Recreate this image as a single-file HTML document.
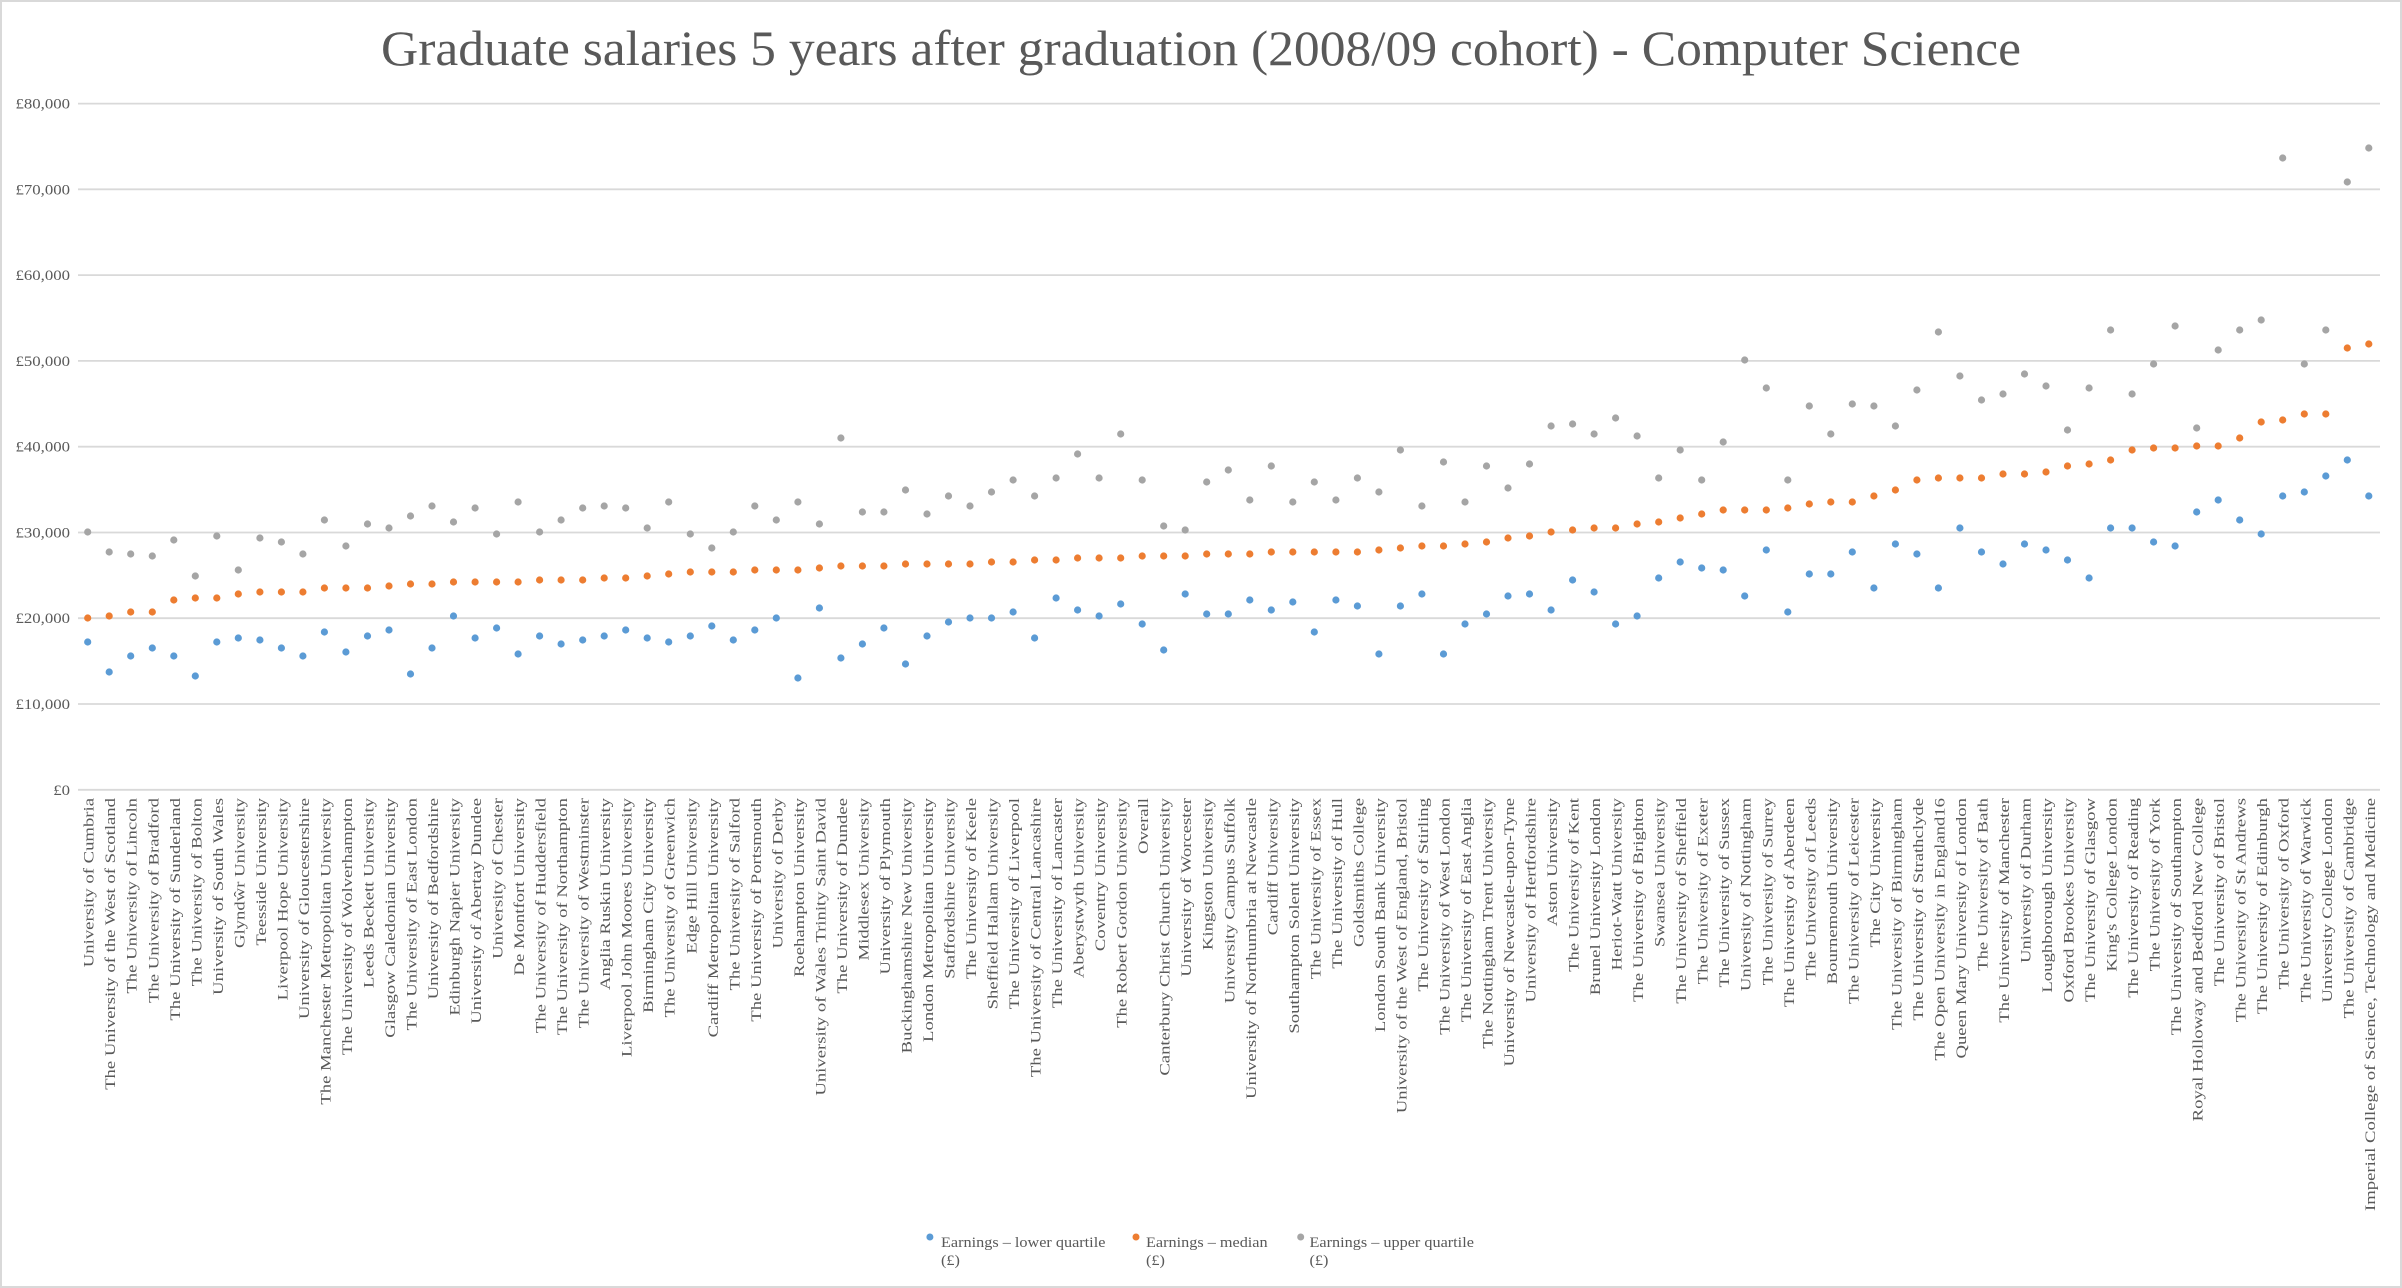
<!DOCTYPE html>
<html>
<head>
<meta charset="utf-8">
<style>
html,body{margin:0;padding:0;background:#fff;}
svg{display:block;}
text{font-family:"Liberation Serif",serif;fill:#595959;}
</style>
</head>
<body>
<svg width="2402" height="1288" viewBox="0 0 2402 1288" xmlns="http://www.w3.org/2000/svg">
<rect x="1" y="1" width="2400" height="1286" fill="#ffffff" stroke="#d9d9d9" stroke-width="2"/>

<!-- Title -->
<text x="1201" y="65" text-anchor="middle" font-size="50" textLength="1640" lengthAdjust="spacingAndGlyphs">Graduate salaries 5 years after graduation (2008/09 cohort) - Computer Science</text>

<!-- Gridlines -->
<g stroke="#d9d9d9" stroke-width="1.8">
<line x1="78" x2="2380" y1="103.6" y2="103.6"/>
<line x1="78" x2="2380" y1="189.3" y2="189.3"/>
<line x1="78" x2="2380" y1="275.1" y2="275.1"/>
<line x1="78" x2="2380" y1="360.9" y2="360.9"/>
<line x1="78" x2="2380" y1="446.7" y2="446.7"/>
<line x1="78" x2="2380" y1="532.5" y2="532.5"/>
<line x1="78" x2="2380" y1="618.2" y2="618.2"/>
<line x1="78" x2="2380" y1="704.0" y2="704.0"/>
<line x1="78" x2="2380" y1="789.8" y2="789.8"/>
</g>

<!-- Y axis labels -->
<g font-size="15" text-anchor="end">
<text transform="translate(70,108.6) scale(1.12,1)">£80,000</text>
<text transform="translate(70,194.3) scale(1.12,1)">£70,000</text>
<text transform="translate(70,280.1) scale(1.12,1)">£60,000</text>
<text transform="translate(70,365.9) scale(1.12,1)">£50,000</text>
<text transform="translate(70,451.7) scale(1.12,1)">£40,000</text>
<text transform="translate(70,537.5) scale(1.12,1)">£30,000</text>
<text transform="translate(70,623.2) scale(1.12,1)">£20,000</text>
<text transform="translate(70,709.0) scale(1.12,1)">£10,000</text>
<text transform="translate(70,794.8) scale(1.12,1)">£0</text>
</g>

<!-- Lower quartile (blue) -->
<g fill="#5b9bd5">
<circle cx="87.7" cy="642" r="3.6"/><circle cx="109.2" cy="672" r="3.6"/><circle cx="130.7" cy="656" r="3.6"/><circle cx="152.3" cy="648" r="3.6"/><circle cx="173.8" cy="656" r="3.6"/><circle cx="195.3" cy="676" r="3.6"/><circle cx="216.8" cy="642" r="3.6"/><circle cx="238.3" cy="638" r="3.6"/><circle cx="259.9" cy="640" r="3.6"/><circle cx="281.4" cy="648" r="3.6"/>
<circle cx="302.9" cy="656" r="3.6"/><circle cx="324.4" cy="632" r="3.6"/><circle cx="345.9" cy="652" r="3.6"/><circle cx="367.5" cy="636" r="3.6"/><circle cx="389.0" cy="630" r="3.6"/><circle cx="410.5" cy="674" r="3.6"/><circle cx="432.0" cy="648" r="3.6"/><circle cx="453.5" cy="616" r="3.6"/><circle cx="475.1" cy="638" r="3.6"/><circle cx="496.6" cy="628" r="3.6"/>
<circle cx="518.1" cy="654" r="3.6"/><circle cx="539.6" cy="636" r="3.6"/><circle cx="561.1" cy="644" r="3.6"/><circle cx="582.7" cy="640" r="3.6"/><circle cx="604.2" cy="636" r="3.6"/><circle cx="625.7" cy="630" r="3.6"/><circle cx="647.2" cy="638" r="3.6"/><circle cx="668.7" cy="642" r="3.6"/><circle cx="690.3" cy="636" r="3.6"/><circle cx="711.8" cy="626" r="3.6"/>
<circle cx="733.3" cy="640" r="3.6"/><circle cx="754.8" cy="630" r="3.6"/><circle cx="776.3" cy="618" r="3.6"/><circle cx="797.9" cy="678" r="3.6"/><circle cx="819.4" cy="608" r="3.6"/><circle cx="840.9" cy="658" r="3.6"/><circle cx="862.4" cy="644" r="3.6"/><circle cx="883.9" cy="628" r="3.6"/><circle cx="905.5" cy="664" r="3.6"/><circle cx="927.0" cy="636" r="3.6"/>
<circle cx="948.5" cy="622" r="3.6"/><circle cx="970.0" cy="618" r="3.6"/><circle cx="991.5" cy="618" r="3.6"/><circle cx="1013.1" cy="612" r="3.6"/><circle cx="1034.6" cy="638" r="3.6"/><circle cx="1056.1" cy="598" r="3.6"/><circle cx="1077.6" cy="610" r="3.6"/><circle cx="1099.1" cy="616" r="3.6"/><circle cx="1120.7" cy="604" r="3.6"/><circle cx="1142.2" cy="624" r="3.6"/>
<circle cx="1163.7" cy="650" r="3.6"/><circle cx="1185.2" cy="594" r="3.6"/><circle cx="1206.7" cy="614" r="3.6"/><circle cx="1228.3" cy="614" r="3.6"/><circle cx="1249.8" cy="600" r="3.6"/><circle cx="1271.3" cy="610" r="3.6"/><circle cx="1292.8" cy="602" r="3.6"/><circle cx="1314.3" cy="632" r="3.6"/><circle cx="1335.9" cy="600" r="3.6"/><circle cx="1357.4" cy="606" r="3.6"/>
<circle cx="1378.9" cy="654" r="3.6"/><circle cx="1400.4" cy="606" r="3.6"/><circle cx="1421.9" cy="594" r="3.6"/><circle cx="1443.5" cy="654" r="3.6"/><circle cx="1465.0" cy="624" r="3.6"/><circle cx="1486.5" cy="614" r="3.6"/><circle cx="1508.0" cy="596" r="3.6"/><circle cx="1529.5" cy="594" r="3.6"/><circle cx="1551.1" cy="610" r="3.6"/><circle cx="1572.6" cy="580" r="3.6"/>
<circle cx="1594.1" cy="592" r="3.6"/><circle cx="1615.6" cy="624" r="3.6"/><circle cx="1637.1" cy="616" r="3.6"/><circle cx="1658.7" cy="578" r="3.6"/><circle cx="1680.2" cy="562" r="3.6"/><circle cx="1701.7" cy="568" r="3.6"/><circle cx="1723.2" cy="570" r="3.6"/><circle cx="1744.7" cy="596" r="3.6"/><circle cx="1766.3" cy="550" r="3.6"/><circle cx="1787.8" cy="612" r="3.6"/>
<circle cx="1809.3" cy="574" r="3.6"/><circle cx="1830.8" cy="574" r="3.6"/><circle cx="1852.3" cy="552" r="3.6"/><circle cx="1873.9" cy="588" r="3.6"/><circle cx="1895.4" cy="544" r="3.6"/><circle cx="1916.9" cy="554" r="3.6"/><circle cx="1938.4" cy="588" r="3.6"/><circle cx="1959.9" cy="528" r="3.6"/><circle cx="1981.5" cy="552" r="3.6"/><circle cx="2003.0" cy="564" r="3.6"/>
<circle cx="2024.5" cy="544" r="3.6"/><circle cx="2046.0" cy="550" r="3.6"/><circle cx="2067.5" cy="560" r="3.6"/><circle cx="2089.1" cy="578" r="3.6"/><circle cx="2110.6" cy="528" r="3.6"/><circle cx="2132.1" cy="528" r="3.6"/><circle cx="2153.6" cy="542" r="3.6"/><circle cx="2175.1" cy="546" r="3.6"/><circle cx="2196.7" cy="512" r="3.6"/><circle cx="2218.2" cy="500" r="3.6"/>
<circle cx="2239.7" cy="520" r="3.6"/><circle cx="2261.2" cy="534" r="3.6"/><circle cx="2282.7" cy="496" r="3.6"/><circle cx="2304.3" cy="492" r="3.6"/><circle cx="2325.8" cy="476" r="3.6"/><circle cx="2347.3" cy="460" r="3.6"/><circle cx="2368.8" cy="496" r="3.6"/>
</g>

<!-- Median (orange) -->
<g fill="#ed7d31">
<circle cx="87.7" cy="618" r="3.6"/><circle cx="109.2" cy="616" r="3.6"/><circle cx="130.7" cy="612" r="3.6"/><circle cx="152.3" cy="612" r="3.6"/><circle cx="173.8" cy="600" r="3.6"/><circle cx="195.3" cy="598" r="3.6"/><circle cx="216.8" cy="598" r="3.6"/><circle cx="238.3" cy="594" r="3.6"/><circle cx="259.9" cy="592" r="3.6"/><circle cx="281.4" cy="592" r="3.6"/>
<circle cx="302.9" cy="592" r="3.6"/><circle cx="324.4" cy="588" r="3.6"/><circle cx="345.9" cy="588" r="3.6"/><circle cx="367.5" cy="588" r="3.6"/><circle cx="389.0" cy="586" r="3.6"/><circle cx="410.5" cy="584" r="3.6"/><circle cx="432.0" cy="584" r="3.6"/><circle cx="453.5" cy="582" r="3.6"/><circle cx="475.1" cy="582" r="3.6"/><circle cx="496.6" cy="582" r="3.6"/>
<circle cx="518.1" cy="582" r="3.6"/><circle cx="539.6" cy="580" r="3.6"/><circle cx="561.1" cy="580" r="3.6"/><circle cx="582.7" cy="580" r="3.6"/><circle cx="604.2" cy="578" r="3.6"/><circle cx="625.7" cy="578" r="3.6"/><circle cx="647.2" cy="576" r="3.6"/><circle cx="668.7" cy="574" r="3.6"/><circle cx="690.3" cy="572" r="3.6"/><circle cx="711.8" cy="572" r="3.6"/>
<circle cx="733.3" cy="572" r="3.6"/><circle cx="754.8" cy="570" r="3.6"/><circle cx="776.3" cy="570" r="3.6"/><circle cx="797.9" cy="570" r="3.6"/><circle cx="819.4" cy="568" r="3.6"/><circle cx="840.9" cy="566" r="3.6"/><circle cx="862.4" cy="566" r="3.6"/><circle cx="883.9" cy="566" r="3.6"/><circle cx="905.5" cy="564" r="3.6"/><circle cx="927.0" cy="564" r="3.6"/>
<circle cx="948.5" cy="564" r="3.6"/><circle cx="970.0" cy="564" r="3.6"/><circle cx="991.5" cy="562" r="3.6"/><circle cx="1013.1" cy="562" r="3.6"/><circle cx="1034.6" cy="560" r="3.6"/><circle cx="1056.1" cy="560" r="3.6"/><circle cx="1077.6" cy="558" r="3.6"/><circle cx="1099.1" cy="558" r="3.6"/><circle cx="1120.7" cy="558" r="3.6"/><circle cx="1142.2" cy="556" r="3.6"/>
<circle cx="1163.7" cy="556" r="3.6"/><circle cx="1185.2" cy="556" r="3.6"/><circle cx="1206.7" cy="554" r="3.6"/><circle cx="1228.3" cy="554" r="3.6"/><circle cx="1249.8" cy="554" r="3.6"/><circle cx="1271.3" cy="552" r="3.6"/><circle cx="1292.8" cy="552" r="3.6"/><circle cx="1314.3" cy="552" r="3.6"/><circle cx="1335.9" cy="552" r="3.6"/><circle cx="1357.4" cy="552" r="3.6"/>
<circle cx="1378.9" cy="550" r="3.6"/><circle cx="1400.4" cy="548" r="3.6"/><circle cx="1421.9" cy="546" r="3.6"/><circle cx="1443.5" cy="546" r="3.6"/><circle cx="1465.0" cy="544" r="3.6"/><circle cx="1486.5" cy="542" r="3.6"/><circle cx="1508.0" cy="538" r="3.6"/><circle cx="1529.5" cy="536" r="3.6"/><circle cx="1551.1" cy="532" r="3.6"/><circle cx="1572.6" cy="530" r="3.6"/>
<circle cx="1594.1" cy="528" r="3.6"/><circle cx="1615.6" cy="528" r="3.6"/><circle cx="1637.1" cy="524" r="3.6"/><circle cx="1658.7" cy="522" r="3.6"/><circle cx="1680.2" cy="518" r="3.6"/><circle cx="1701.7" cy="514" r="3.6"/><circle cx="1723.2" cy="510" r="3.6"/><circle cx="1744.7" cy="510" r="3.6"/><circle cx="1766.3" cy="510" r="3.6"/><circle cx="1787.8" cy="508" r="3.6"/>
<circle cx="1809.3" cy="504" r="3.6"/><circle cx="1830.8" cy="502" r="3.6"/><circle cx="1852.3" cy="502" r="3.6"/><circle cx="1873.9" cy="496" r="3.6"/><circle cx="1895.4" cy="490" r="3.6"/><circle cx="1916.9" cy="480" r="3.6"/><circle cx="1938.4" cy="478" r="3.6"/><circle cx="1959.9" cy="478" r="3.6"/><circle cx="1981.5" cy="478" r="3.6"/><circle cx="2003.0" cy="474" r="3.6"/>
<circle cx="2024.5" cy="474" r="3.6"/><circle cx="2046.0" cy="472" r="3.6"/><circle cx="2067.5" cy="466" r="3.6"/><circle cx="2089.1" cy="464" r="3.6"/><circle cx="2110.6" cy="460" r="3.6"/><circle cx="2132.1" cy="450" r="3.6"/><circle cx="2153.6" cy="448" r="3.6"/><circle cx="2175.1" cy="448" r="3.6"/><circle cx="2196.7" cy="446" r="3.6"/><circle cx="2218.2" cy="446" r="3.6"/>
<circle cx="2239.7" cy="438" r="3.6"/><circle cx="2261.2" cy="422" r="3.6"/><circle cx="2282.7" cy="420" r="3.6"/><circle cx="2304.3" cy="414" r="3.6"/><circle cx="2325.8" cy="414" r="3.6"/><circle cx="2347.3" cy="348" r="3.6"/><circle cx="2368.8" cy="344" r="3.6"/>
</g>

<!-- Upper quartile (gray) -->
<g fill="#a5a5a5">
<circle cx="87.7" cy="532" r="3.6"/><circle cx="109.2" cy="552" r="3.6"/><circle cx="130.7" cy="554" r="3.6"/><circle cx="152.3" cy="556" r="3.6"/><circle cx="173.8" cy="540" r="3.6"/><circle cx="195.3" cy="576" r="3.6"/><circle cx="216.8" cy="536" r="3.6"/><circle cx="238.3" cy="570" r="3.6"/><circle cx="259.9" cy="538" r="3.6"/><circle cx="281.4" cy="542" r="3.6"/>
<circle cx="302.9" cy="554" r="3.6"/><circle cx="324.4" cy="520" r="3.6"/><circle cx="345.9" cy="546" r="3.6"/><circle cx="367.5" cy="524" r="3.6"/><circle cx="389.0" cy="528" r="3.6"/><circle cx="410.5" cy="516" r="3.6"/><circle cx="432.0" cy="506" r="3.6"/><circle cx="453.5" cy="522" r="3.6"/><circle cx="475.1" cy="508" r="3.6"/><circle cx="496.6" cy="534" r="3.6"/>
<circle cx="518.1" cy="502" r="3.6"/><circle cx="539.6" cy="532" r="3.6"/><circle cx="561.1" cy="520" r="3.6"/><circle cx="582.7" cy="508" r="3.6"/><circle cx="604.2" cy="506" r="3.6"/><circle cx="625.7" cy="508" r="3.6"/><circle cx="647.2" cy="528" r="3.6"/><circle cx="668.7" cy="502" r="3.6"/><circle cx="690.3" cy="534" r="3.6"/><circle cx="711.8" cy="548" r="3.6"/>
<circle cx="733.3" cy="532" r="3.6"/><circle cx="754.8" cy="506" r="3.6"/><circle cx="776.3" cy="520" r="3.6"/><circle cx="797.9" cy="502" r="3.6"/><circle cx="819.4" cy="524" r="3.6"/><circle cx="840.9" cy="438" r="3.6"/><circle cx="862.4" cy="512" r="3.6"/><circle cx="883.9" cy="512" r="3.6"/><circle cx="905.5" cy="490" r="3.6"/><circle cx="927.0" cy="514" r="3.6"/>
<circle cx="948.5" cy="496" r="3.6"/><circle cx="970.0" cy="506" r="3.6"/><circle cx="991.5" cy="492" r="3.6"/><circle cx="1013.1" cy="480" r="3.6"/><circle cx="1034.6" cy="496" r="3.6"/><circle cx="1056.1" cy="478" r="3.6"/><circle cx="1077.6" cy="454" r="3.6"/><circle cx="1099.1" cy="478" r="3.6"/><circle cx="1120.7" cy="434" r="3.6"/><circle cx="1142.2" cy="480" r="3.6"/>
<circle cx="1163.7" cy="526" r="3.6"/><circle cx="1185.2" cy="530" r="3.6"/><circle cx="1206.7" cy="482" r="3.6"/><circle cx="1228.3" cy="470" r="3.6"/><circle cx="1249.8" cy="500" r="3.6"/><circle cx="1271.3" cy="466" r="3.6"/><circle cx="1292.8" cy="502" r="3.6"/><circle cx="1314.3" cy="482" r="3.6"/><circle cx="1335.9" cy="500" r="3.6"/><circle cx="1357.4" cy="478" r="3.6"/>
<circle cx="1378.9" cy="492" r="3.6"/><circle cx="1400.4" cy="450" r="3.6"/><circle cx="1421.9" cy="506" r="3.6"/><circle cx="1443.5" cy="462" r="3.6"/><circle cx="1465.0" cy="502" r="3.6"/><circle cx="1486.5" cy="466" r="3.6"/><circle cx="1508.0" cy="488" r="3.6"/><circle cx="1529.5" cy="464" r="3.6"/><circle cx="1551.1" cy="426" r="3.6"/><circle cx="1572.6" cy="424" r="3.6"/>
<circle cx="1594.1" cy="434" r="3.6"/><circle cx="1615.6" cy="418" r="3.6"/><circle cx="1637.1" cy="436" r="3.6"/><circle cx="1658.7" cy="478" r="3.6"/><circle cx="1680.2" cy="450" r="3.6"/><circle cx="1701.7" cy="480" r="3.6"/><circle cx="1723.2" cy="442" r="3.6"/><circle cx="1744.7" cy="360" r="3.6"/><circle cx="1766.3" cy="388" r="3.6"/><circle cx="1787.8" cy="480" r="3.6"/>
<circle cx="1809.3" cy="406" r="3.6"/><circle cx="1830.8" cy="434" r="3.6"/><circle cx="1852.3" cy="404" r="3.6"/><circle cx="1873.9" cy="406" r="3.6"/><circle cx="1895.4" cy="426" r="3.6"/><circle cx="1916.9" cy="390" r="3.6"/><circle cx="1938.4" cy="332" r="3.6"/><circle cx="1959.9" cy="376" r="3.6"/><circle cx="1981.5" cy="400" r="3.6"/><circle cx="2003.0" cy="394" r="3.6"/>
<circle cx="2024.5" cy="374" r="3.6"/><circle cx="2046.0" cy="386" r="3.6"/><circle cx="2067.5" cy="430" r="3.6"/><circle cx="2089.1" cy="388" r="3.6"/><circle cx="2110.6" cy="330" r="3.6"/><circle cx="2132.1" cy="394" r="3.6"/><circle cx="2153.6" cy="364" r="3.6"/><circle cx="2175.1" cy="326" r="3.6"/><circle cx="2196.7" cy="428" r="3.6"/><circle cx="2218.2" cy="350" r="3.6"/>
<circle cx="2239.7" cy="330" r="3.6"/><circle cx="2261.2" cy="320" r="3.6"/><circle cx="2282.7" cy="158" r="3.6"/><circle cx="2304.3" cy="364" r="3.6"/><circle cx="2325.8" cy="330" r="3.6"/><circle cx="2347.3" cy="182" r="3.6"/><circle cx="2368.8" cy="148" r="3.6"/>
</g>

<!-- Category labels -->
<g font-size="14.5" text-anchor="end">
<text transform="translate(93.7,798) rotate(-90) scale(1.29,1)">University of Cumbria</text>
<text transform="translate(115.2,798) rotate(-90) scale(1.29,1)">The University of the West of Scotland</text>
<text transform="translate(136.7,798) rotate(-90) scale(1.29,1)">The University of Lincoln</text>
<text transform="translate(158.3,798) rotate(-90) scale(1.29,1)">The University of Bradford</text>
<text transform="translate(179.8,798) rotate(-90) scale(1.29,1)">The University of Sunderland</text>
<text transform="translate(201.3,798) rotate(-90) scale(1.29,1)">The University of Bolton</text>
<text transform="translate(222.8,798) rotate(-90) scale(1.29,1)">University of South Wales</text>
<text transform="translate(244.3,798) rotate(-90) scale(1.29,1)">Glyndŵr University</text>
<text transform="translate(265.9,798) rotate(-90) scale(1.29,1)">Teesside University</text>
<text transform="translate(287.4,798) rotate(-90) scale(1.29,1)">Liverpool Hope University</text>
<text transform="translate(308.9,798) rotate(-90) scale(1.29,1)">University of Gloucestershire</text>
<text transform="translate(330.4,798) rotate(-90) scale(1.29,1)">The Manchester Metropolitan University</text>
<text transform="translate(351.9,798) rotate(-90) scale(1.29,1)">The University of Wolverhampton</text>
<text transform="translate(373.5,798) rotate(-90) scale(1.29,1)">Leeds Beckett University</text>
<text transform="translate(395.0,798) rotate(-90) scale(1.29,1)">Glasgow Caledonian University</text>
<text transform="translate(416.5,798) rotate(-90) scale(1.29,1)">The University of East London</text>
<text transform="translate(438.0,798) rotate(-90) scale(1.29,1)">University of Bedfordshire</text>
<text transform="translate(459.5,798) rotate(-90) scale(1.29,1)">Edinburgh Napier University</text>
<text transform="translate(481.1,798) rotate(-90) scale(1.29,1)">University of Abertay Dundee</text>
<text transform="translate(502.6,798) rotate(-90) scale(1.29,1)">University of Chester</text>
<text transform="translate(524.1,798) rotate(-90) scale(1.29,1)">De Montfort University</text>
<text transform="translate(545.6,798) rotate(-90) scale(1.29,1)">The University of Huddersfield</text>
<text transform="translate(567.1,798) rotate(-90) scale(1.29,1)">The University of Northampton</text>
<text transform="translate(588.7,798) rotate(-90) scale(1.29,1)">The University of Westminster</text>
<text transform="translate(610.2,798) rotate(-90) scale(1.29,1)">Anglia Ruskin University</text>
<text transform="translate(631.7,798) rotate(-90) scale(1.29,1)">Liverpool John Moores University</text>
<text transform="translate(653.2,798) rotate(-90) scale(1.29,1)">Birmingham City University</text>
<text transform="translate(674.7,798) rotate(-90) scale(1.29,1)">The University of Greenwich</text>
<text transform="translate(696.3,798) rotate(-90) scale(1.29,1)">Edge Hill University</text>
<text transform="translate(717.8,798) rotate(-90) scale(1.29,1)">Cardiff Metropolitan University</text>
<text transform="translate(739.3,798) rotate(-90) scale(1.29,1)">The University of Salford</text>
<text transform="translate(760.8,798) rotate(-90) scale(1.29,1)">The University of Portsmouth</text>
<text transform="translate(782.3,798) rotate(-90) scale(1.29,1)">University of Derby</text>
<text transform="translate(803.9,798) rotate(-90) scale(1.29,1)">Roehampton University</text>
<text transform="translate(825.4,798) rotate(-90) scale(1.29,1)">University of Wales Trinity Saint David</text>
<text transform="translate(846.9,798) rotate(-90) scale(1.29,1)">The University of Dundee</text>
<text transform="translate(868.4,798) rotate(-90) scale(1.29,1)">Middlesex University</text>
<text transform="translate(889.9,798) rotate(-90) scale(1.29,1)">University of Plymouth</text>
<text transform="translate(911.5,798) rotate(-90) scale(1.29,1)">Buckinghamshire New University</text>
<text transform="translate(933.0,798) rotate(-90) scale(1.29,1)">London Metropolitan University</text>
<text transform="translate(954.5,798) rotate(-90) scale(1.29,1)">Staffordshire University</text>
<text transform="translate(976.0,798) rotate(-90) scale(1.29,1)">The University of Keele</text>
<text transform="translate(997.5,798) rotate(-90) scale(1.29,1)">Sheffield Hallam University</text>
<text transform="translate(1019.1,798) rotate(-90) scale(1.29,1)">The University of Liverpool</text>
<text transform="translate(1040.6,798) rotate(-90) scale(1.29,1)">The University of Central Lancashire</text>
<text transform="translate(1062.1,798) rotate(-90) scale(1.29,1)">The University of Lancaster</text>
<text transform="translate(1083.6,798) rotate(-90) scale(1.29,1)">Aberystwyth University</text>
<text transform="translate(1105.1,798) rotate(-90) scale(1.29,1)">Coventry University</text>
<text transform="translate(1126.7,798) rotate(-90) scale(1.29,1)">The Robert Gordon University</text>
<text transform="translate(1148.2,798) rotate(-90) scale(1.29,1)">Overall</text>
<text transform="translate(1169.7,798) rotate(-90) scale(1.29,1)">Canterbury Christ Church University</text>
<text transform="translate(1191.2,798) rotate(-90) scale(1.29,1)">University of Worcester</text>
<text transform="translate(1212.7,798) rotate(-90) scale(1.29,1)">Kingston University</text>
<text transform="translate(1234.3,798) rotate(-90) scale(1.29,1)">University Campus Suffolk</text>
<text transform="translate(1255.8,798) rotate(-90) scale(1.29,1)">University of Northumbria at Newcastle</text>
<text transform="translate(1277.3,798) rotate(-90) scale(1.29,1)">Cardiff University</text>
<text transform="translate(1298.8,798) rotate(-90) scale(1.29,1)">Southampton Solent University</text>
<text transform="translate(1320.3,798) rotate(-90) scale(1.29,1)">The University of Essex</text>
<text transform="translate(1341.9,798) rotate(-90) scale(1.29,1)">The University of Hull</text>
<text transform="translate(1363.4,798) rotate(-90) scale(1.29,1)">Goldsmiths College</text>
<text transform="translate(1384.9,798) rotate(-90) scale(1.29,1)">London South Bank University</text>
<text transform="translate(1406.4,798) rotate(-90) scale(1.29,1)">University of the West of England, Bristol</text>
<text transform="translate(1427.9,798) rotate(-90) scale(1.29,1)">The University of Stirling</text>
<text transform="translate(1449.5,798) rotate(-90) scale(1.29,1)">The University of West London</text>
<text transform="translate(1471.0,798) rotate(-90) scale(1.29,1)">The University of East Anglia</text>
<text transform="translate(1492.5,798) rotate(-90) scale(1.29,1)">The Nottingham Trent University</text>
<text transform="translate(1514.0,798) rotate(-90) scale(1.29,1)">University of Newcastle-upon-Tyne</text>
<text transform="translate(1535.5,798) rotate(-90) scale(1.29,1)">University of Hertfordshire</text>
<text transform="translate(1557.1,798) rotate(-90) scale(1.29,1)">Aston University</text>
<text transform="translate(1578.6,798) rotate(-90) scale(1.29,1)">The University of Kent</text>
<text transform="translate(1600.1,798) rotate(-90) scale(1.29,1)">Brunel University London</text>
<text transform="translate(1621.6,798) rotate(-90) scale(1.29,1)">Heriot-Watt University</text>
<text transform="translate(1643.1,798) rotate(-90) scale(1.29,1)">The University of Brighton</text>
<text transform="translate(1664.7,798) rotate(-90) scale(1.29,1)">Swansea University</text>
<text transform="translate(1686.2,798) rotate(-90) scale(1.29,1)">The University of Sheffield</text>
<text transform="translate(1707.7,798) rotate(-90) scale(1.29,1)">The University of Exeter</text>
<text transform="translate(1729.2,798) rotate(-90) scale(1.29,1)">The University of Sussex</text>
<text transform="translate(1750.7,798) rotate(-90) scale(1.29,1)">University of Nottingham</text>
<text transform="translate(1772.3,798) rotate(-90) scale(1.29,1)">The University of Surrey</text>
<text transform="translate(1793.8,798) rotate(-90) scale(1.29,1)">The University of Aberdeen</text>
<text transform="translate(1815.3,798) rotate(-90) scale(1.29,1)">The University of Leeds</text>
<text transform="translate(1836.8,798) rotate(-90) scale(1.29,1)">Bournemouth University</text>
<text transform="translate(1858.3,798) rotate(-90) scale(1.29,1)">The University of Leicester</text>
<text transform="translate(1879.9,798) rotate(-90) scale(1.29,1)">The City University</text>
<text transform="translate(1901.4,798) rotate(-90) scale(1.29,1)">The University of Birmingham</text>
<text transform="translate(1922.9,798) rotate(-90) scale(1.29,1)">The University of Strathclyde</text>
<text transform="translate(1944.4,798) rotate(-90) scale(1.29,1)">The Open University in England16</text>
<text transform="translate(1965.9,798) rotate(-90) scale(1.29,1)">Queen Mary University of London</text>
<text transform="translate(1987.5,798) rotate(-90) scale(1.29,1)">The University of Bath</text>
<text transform="translate(2009.0,798) rotate(-90) scale(1.29,1)">The University of Manchester</text>
<text transform="translate(2030.5,798) rotate(-90) scale(1.29,1)">University of Durham</text>
<text transform="translate(2052.0,798) rotate(-90) scale(1.29,1)">Loughborough University</text>
<text transform="translate(2073.5,798) rotate(-90) scale(1.29,1)">Oxford Brookes University</text>
<text transform="translate(2095.1,798) rotate(-90) scale(1.29,1)">The University of Glasgow</text>
<text transform="translate(2116.6,798) rotate(-90) scale(1.29,1)">King's College London</text>
<text transform="translate(2138.1,798) rotate(-90) scale(1.29,1)">The University of Reading</text>
<text transform="translate(2159.6,798) rotate(-90) scale(1.29,1)">The University of York</text>
<text transform="translate(2181.1,798) rotate(-90) scale(1.29,1)">The University of Southampton</text>
<text transform="translate(2202.7,798) rotate(-90) scale(1.29,1)">Royal Holloway and Bedford New College</text>
<text transform="translate(2224.2,798) rotate(-90) scale(1.29,1)">The University of Bristol</text>
<text transform="translate(2245.7,798) rotate(-90) scale(1.29,1)">The University of St Andrews</text>
<text transform="translate(2267.2,798) rotate(-90) scale(1.29,1)">The University of Edinburgh</text>
<text transform="translate(2288.7,798) rotate(-90) scale(1.29,1)">The University of Oxford</text>
<text transform="translate(2310.3,798) rotate(-90) scale(1.29,1)">The University of Warwick</text>
<text transform="translate(2331.8,798) rotate(-90) scale(1.29,1)">University College London</text>
<text transform="translate(2353.3,798) rotate(-90) scale(1.29,1)">The University of Cambridge</text>
<text transform="translate(2374.8,798) rotate(-90) scale(1.29,1)">Imperial College of Science, Technology and Medicine</text>
</g>

<!-- Legend -->
<circle cx="929.9" cy="1237" r="3.5" fill="#5b9bd5"/>
<circle cx="1136" cy="1237" r="3.5" fill="#ed7d31"/>
<circle cx="1300.7" cy="1237" r="3.5" fill="#a5a5a5"/>
<g font-size="14.5">
<text transform="translate(941,1247) scale(1.12,1)">Earnings – lower quartile</text>
<text transform="translate(941,1265) scale(1.12,1)">(£)</text>
<text transform="translate(1146,1247) scale(1.12,1)">Earnings – median</text>
<text transform="translate(1146,1265) scale(1.12,1)">(£)</text>
<text transform="translate(1309.5,1247) scale(1.12,1)">Earnings – upper quartile</text>
<text transform="translate(1309.5,1265) scale(1.12,1)">(£)</text>
</g>
</svg>
</body>
</html>
